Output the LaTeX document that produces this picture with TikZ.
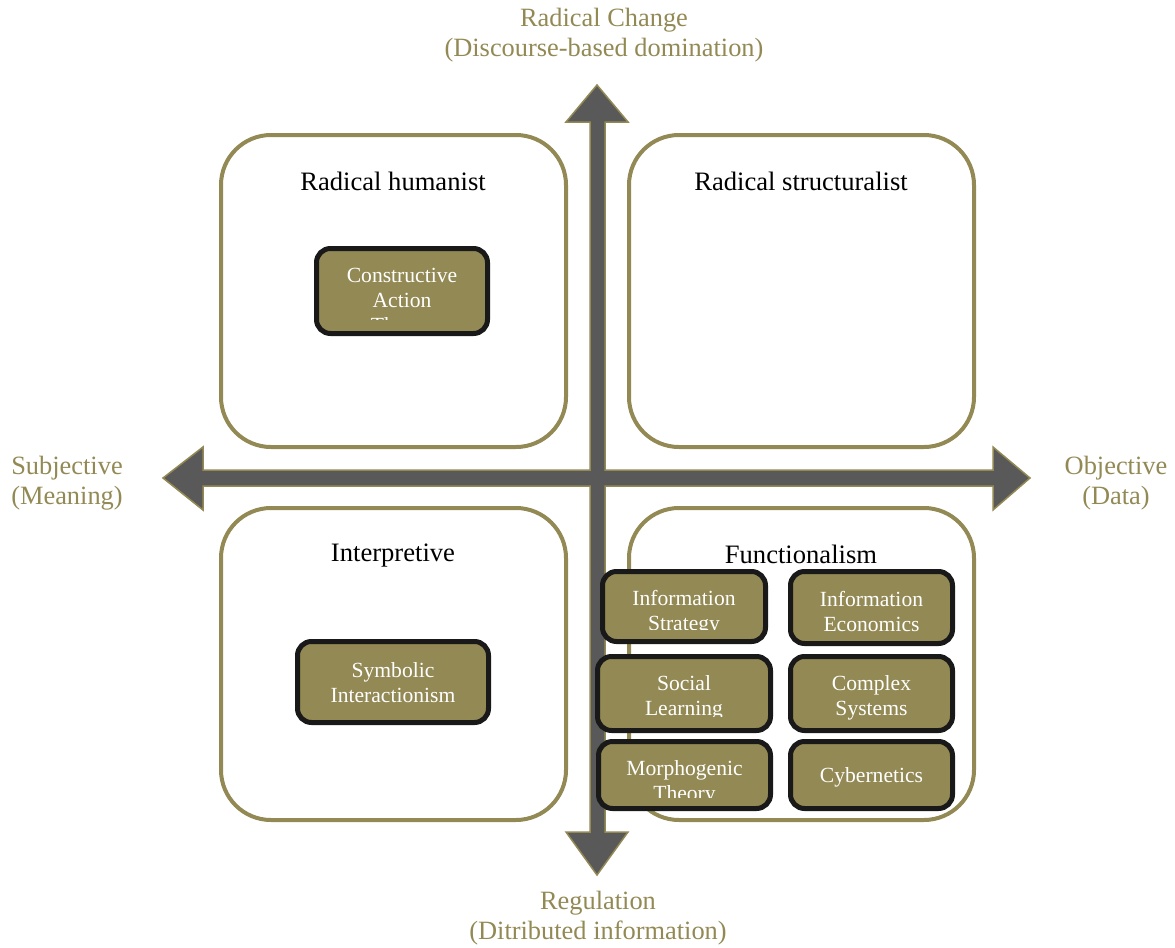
\documentclass[tikz,border=0pt]{standalone}
\usepackage{fontspec}
\setmainfont{Liberation Serif}
\definecolor{olive}{RGB}{147,137,84}
\definecolor{axisgray}{RGB}{89,89,89}

\begin{document}
\begin{tikzpicture}[x=0.5pt,y=-0.5pt]
\tikzstyle{every node}+=[inner sep=0pt]
\tikzstyle{quadbox}=[draw=olive, line width=2pt, rounded corners=25pt, minimum width=172.5pt, minimum height=156pt]
\tikzstyle{quadtitle}=[font=\fontsize{13.3}{15}\selectfont, text=black]
\tikzstyle{axislabel}=[font=\fontsize{13.2}{15}\selectfont, text=olive, align=center]
\tikzstyle{catbox}=[draw=black!90, fill=olive, line width=2.5pt, rounded corners=7pt]
\tikzstyle{cattext}=[font=\fontsize{10.8}{12.5}\selectfont, text=white, align=center]
\useasboundingbox (0,0) rectangle (1175,948);
% quadrants
\node [quadbox] (humanist) at (393.5,291) {};
\node [quadbox] (structuralist) at (801.5,291) {};
\node [quadbox] (interpretive) at (393.5,664) {};
\node [quadbox] (functionalist) at (801.5,664) {};
\node [quadtitle] (humanist-t) at (393,181.5) {Radical humanist};
\node [quadtitle] (structuralist-t) at (801,181.5) {Radical structuralist};
\node [quadtitle] (interpretive-t) at (393,556) {Interpretive};
\node [quadtitle] (functionalist-t) at (801,554) {Functionalism};
% axes
\filldraw [fill=axisgray, draw=olive, line width=0.75pt] (590,122) -- (566,122) -- (597,85) -- (628,122) -- (605,122) -- (605,470) -- (993,470) -- (993,447) -- (1030,478) -- (993,510) -- (993,486) -- (605,486) -- (605,832) -- (628,832) -- (597,875) -- (566,832) -- (590,832) -- (590,486) -- (203,486) -- (203,510) -- (163,478) -- (203,447) -- (203,470) -- (590,470) -- cycle;
\node [axislabel] (change) at (604,35) {Radical Change\\(Discourse-based domination)};
\node [axislabel] (regulation) at (598,918) {Regulation\\(Ditributed information)};
\node [axislabel] (subjective) at (67,483) {Subjective\\(Meaning)};
\node [axislabel] (objective) at (1116,483) {Objective\\(Data)};
% theories
\node [catbox, minimum width=85.5pt, minimum height=42.5pt] (action) at (402,291) {};
\begin{scope}
\clip (300,240) rectangle (500,319);
\node [cattext] (action-t) at (402,303) {Constructive\\Action\\Theory};
\end{scope}
\node [catbox, minimum width=95.5pt, minimum height=40.5pt] (symbolic) at (393,682) {};
\node [cattext] (symbolic-t) at (393,683) {Symbolic\\Interactionism};
\node [catbox, minimum width=81.5pt, minimum height=35pt] (strategy) at (684,606.5) {};
\begin{scope}
\clip (590,560) rectangle (780,629);
\node [cattext] (strategy-t) at (684,612.5) {Information\\Strategy};
\end{scope}
\node [catbox, minimum width=81pt, minimum height=36pt] (economics) at (871.5,607.5) {};
\node [cattext] (economics-t) at (871.5,611) {Information\\Economics};
\node [catbox, minimum width=86.5pt, minimum height=37pt] (learning) at (684,693.5) {};
\begin{scope}
\clip (590,650) rectangle (780,716);
\node [cattext] (learning-t) at (684,698) {Social\\Learning};
\end{scope}
\node [catbox, minimum width=81pt, minimum height=37pt] (complex) at (871.5,693.5) {};
\node [cattext] (complex-t) at (871.5,698) {Complex\\Systems};
\node [catbox, minimum width=86pt, minimum height=33.5pt] (morpho) at (684.5,775) {};
\begin{scope}
\clip (590,735) rectangle (780,797);
\node [cattext] (morpho-t) at (684.5,783) {Morphogenic\\Theory};
\end{scope}
\node [catbox, minimum width=81pt, minimum height=33.5pt] (cyber) at (871.5,775) {};
\node [cattext] (cyber-t) at (871.5,777.5) {Cybernetics};
\end{tikzpicture}
\end{document}
